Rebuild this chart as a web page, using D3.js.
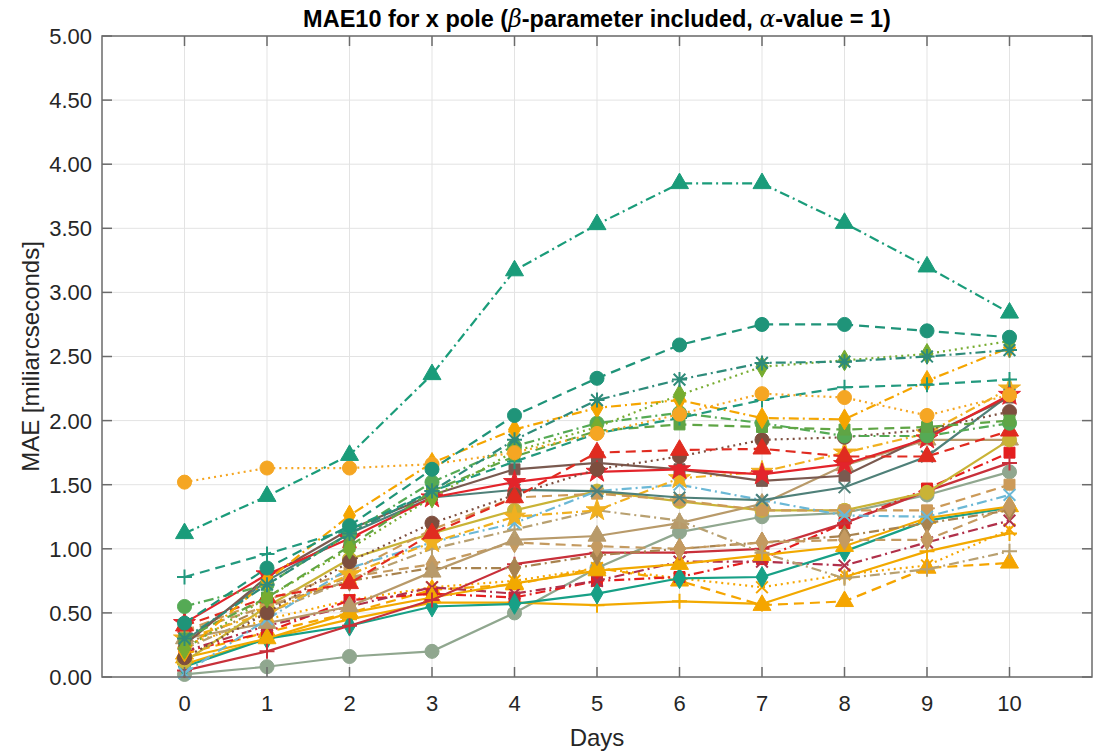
<!DOCTYPE html>
<html>
<head>
<meta charset="utf-8">
<script src="https://cdn.jsdelivr.net/npm/d3@7"></script>
<style>
  body { margin: 0; background: #fff; }
  svg { display: block; font-family: "Liberation Sans", Arial, sans-serif; }
</style>
</head>
<body>
<div id="chart"></div>
<script>
// x positions (days)
var days = [0, 1, 2, 3, 4, 5, 6, 7, 8, 9, 10];
var yTicks = [0, 0.5, 1, 1.5, 2, 2.5, 3, 3.5, 4, 4.5, 5];

// MAE values per series
var triTeal    = [1.12, 1.41, 1.73, 2.36, 3.17, 3.53, 3.85, 3.85, 3.54, 3.20, 2.84];
var circTeal   = [0.42, 0.85, 1.18, 1.62, 2.04, 2.33, 2.59, 2.75, 2.75, 2.70, 2.65];
var circOrange = [1.52, 1.63, 1.63, 1.66, 1.75, 1.90, 2.05, 2.21, 2.18, 2.04, 2.20];
var astTeal    = [0.30, 0.72, 1.12, 1.45, 1.85, 2.16, 2.32, 2.45, 2.46, 2.50, 2.55];
var diaOlive   = [0.22, 0.62, 1.00, 1.40, 1.76, 1.95, 2.20, 2.42, 2.47, 2.52, 2.62];
var plusTeal   = [0.78, 0.96, 1.15, 1.45, 1.68, 1.90, 2.02, 2.16, 2.26, 2.28, 2.32];
var diaOrange  = [0.20, 0.75, 1.26, 1.67, 1.93, 2.10, 2.16, 2.02, 2.01, 2.31, 2.57];
var sqGreen    = [0.30, 0.62, 1.02, 1.45, 1.72, 1.92, 1.97, 1.95, 1.93, 1.95, 2.00];
var circGreen  = [0.55, 0.72, 1.12, 1.52, 1.80, 1.98, 2.06, 1.98, 1.88, 1.88, 1.98];
var triRed     = [0.40, 0.62, 0.73, 1.12, 1.40, 1.75, 1.77, 1.78, 1.72, 1.72, 1.92];
var circBrown  = [0.15, 0.50, 0.90, 1.20, 1.42, 1.62, 1.72, 1.85, 1.87, 1.93, 2.07];
var starRed    = [0.42, 0.80, 1.08, 1.40, 1.52, 1.60, 1.62, 1.58, 1.66, 1.86, 2.20];
var sqBrown    = [0.25, 0.78, 1.15, 1.42, 1.62, 1.67, 1.62, 1.53, 1.57, 1.88, 2.18];
var xTealGray  = [0.28, 0.75, 1.12, 1.40, 1.46, 1.45, 1.40, 1.38, 1.48, 1.72, 2.20];
var xBlue      = [0.03, 0.45, 0.85, 1.05, 1.20, 1.45, 1.50, 1.38, 1.26, 1.25, 1.42];
var sqTan      = [0.36, 0.60, 0.82, 1.15, 1.40, 1.43, 1.38, 1.30, 1.30, 1.30, 1.50];
var circOlive  = [0.12, 0.55, 0.92, 1.12, 1.30, 1.45, 1.37, 1.30, 1.30, 1.44, 1.85];
var plusKhaki  = [0.22, 0.50, 0.76, 1.00, 1.15, 1.30, 1.22, 0.97, 0.77, 0.84, 0.98];
var circGray   = [0.02, 0.08, 0.16, 0.20, 0.50, 0.85, 1.13, 1.25, 1.28, 1.42, 1.60];
var triTan     = [0.30, 0.42, 0.55, 0.82, 1.07, 1.10, 1.20, 1.35, 1.65, 1.85, 1.85];
var diaTan     = [0.35, 0.55, 0.78, 0.88, 1.05, 1.02, 1.00, 1.05, 1.07, 1.07, 1.33];
var plusRed    = [0.05, 0.20, 0.40, 0.60, 0.88, 0.97, 0.97, 1.00, 1.20, 1.45, 1.67];
var triOrangeS = [0.15, 0.30, 0.50, 0.62, 0.73, 0.83, 0.88, 0.95, 1.02, 1.24, 1.33];
var diaTeal    = [0.08, 0.30, 0.40, 0.55, 0.57, 0.65, 0.77, 0.78, 0.98, 1.22, 1.32];
var xDarkRed   = [0.20, 0.40, 0.55, 0.70, 0.65, 0.75, 0.90, 0.90, 0.87, 1.05, 1.22];
var sqRed      = [0.20, 0.35, 0.60, 0.65, 0.62, 0.75, 0.78, 0.92, 1.20, 1.47, 1.75];
var plusOrange = [0.10, 0.30, 0.45, 0.58, 0.58, 0.56, 0.59, 0.57, 0.78, 0.98, 1.12];
var triOrange  = [0.18, 0.35, 0.50, 0.68, 0.72, 0.85, 0.75, 0.56, 0.59, 0.85, 0.89];
var xOrange    = [0.25, 0.45, 0.60, 0.70, 0.75, 0.85, 0.77, 0.70, 0.80, 0.87, 1.15];
var starYellow = [0.30, 0.50, 0.80, 1.05, 1.25, 1.30, 1.55, 1.60, 1.75, 1.90, 2.25];
var diaBrown   = [0.25, 0.55, 0.75, 0.85, 0.85, 0.95, 1.00, 1.05, 1.10, 1.20, 1.30];

// line styles (matlab-like)
var DASH = "10,6", DOT = "2,4", DASHDOT = "10,4,2,4", SOLID = null;

var series = [
  {v: circGray,   c: "#90a78f", d: SOLID,   m: "circle"},
  {v: plusOrange, c: "#f2a900", d: SOLID,   m: "plus"},
  {v: triOrange,  c: "#f5a500", d: DASH,    m: "triangle"},
  {v: xOrange,    c: "#f5a500", d: DOT,     m: "x"},
  {v: sqRed,      c: "#e41e1e", d: DASHDOT, m: "square"},
  {v: xDarkRed,   c: "#b0304a", d: DASHDOT, m: "x"},
  {v: diaTeal,    c: "#17a086", d: SOLID,   m: "diamond"},
  {v: triOrangeS, c: "#f2a900", d: SOLID,   m: "triangle"},
  {v: plusRed,    c: "#c8303a", d: SOLID,   m: "plus"},
  {v: diaBrown,   c: "#a8834f", d: DASHDOT, m: "diamond"},
  {v: diaTan,     c: "#c49a60", d: DASH,    m: "diamond"},
  {v: triTan,     c: "#b89a6a", d: SOLID,   m: "triangle"},
  {v: plusKhaki,  c: "#b8a070", d: DASHDOT, m: "plus"},
  {v: circOlive,  c: "#c9b336", d: SOLID,   m: "circle"},
  {v: sqTan,      c: "#cc9a58", d: DASH,    m: "square"},
  {v: xBlue,      c: "#6bb8d6", d: DASHDOT, m: "x"},
  {v: starYellow, c: "#f0b020", d: DASHDOT, m: "star"},
  {v: xTealGray,  c: "#4f8079", d: SOLID,   m: "x"},
  {v: sqBrown,    c: "#7a5a50", d: SOLID,   m: "square"},
  {v: starRed,    c: "#e3242b", d: SOLID,   m: "star"},
  {v: circBrown,  c: "#7d4e3e", d: DOT,     m: "circle"},
  {v: triRed,     c: "#e02b20", d: DASH,    m: "triangle"},
  {v: circGreen,  c: "#55aa55", d: DASHDOT, m: "circle"},
  {v: sqGreen,    c: "#5fa545", d: DASH,    m: "square"},
  {v: diaOrange,  c: "#f5a500", d: DASHDOT, m: "diamond"},
  {v: plusTeal,   c: "#22997e", d: DASH,    m: "plus"},
  {v: diaOlive,   c: "#77ac30", d: DOT,     m: "diamond"},
  {v: astTeal,    c: "#2e8b7a", d: DASHDOT, m: "asterisk"},
  {v: circOrange, c: "#f5a623", d: DOT,     m: "circle"},
  {v: circTeal,   c: "#1f9479", d: DASH,    m: "circle"},
  {v: triTeal,    c: "#1a9c7a", d: DASHDOT, m: "triangle"}
];

var W = 1094, H = 752;
var margin = {top: 36, right: 2, bottom: 75, left: 102};
var width = W - margin.left - margin.right,
    height = H - margin.top - margin.bottom;

var svg = d3.select("#chart").append("svg")
    .attr("width", W).attr("height", H);
var g = svg.append("g")
    .attr("transform", "translate(" + margin.left + "," + margin.top + ")");

var x = d3.scaleLinear().domain([-1, 11]).range([0, width]);
var y = d3.scaleLinear().domain([0, 5]).range([height, 0]);

// grid
g.append("g").selectAll("line").data(days).enter().append("line")
    .attr("x1", function (d) { return x(d); }).attr("x2", function (d) { return x(d); })
    .attr("y1", 0).attr("y2", height)
    .attr("stroke", "#e3e3e3").attr("stroke-width", 1);
g.append("g").selectAll("line").data(yTicks).enter().append("line")
    .attr("y1", function (d) { return y(d); }).attr("y2", function (d) { return y(d); })
    .attr("x1", 0).attr("x2", width)
    .attr("stroke", "#e3e3e3").attr("stroke-width", 1);

// lines + markers
var line = d3.line()
    .x(function (d, i) { return x(days[i]); })
    .y(function (d) { return y(d); });

function marker(sel, s) {
  var c = s.c;
  if (s.m === "plus" || s.m === "x" || s.m === "asterisk") {
    var r = 7.5, p = "";
    if (s.m !== "x") p += "M" + (-r) + ",0H" + r + "M0," + (-r) + "V" + r;
    if (s.m !== "plus") { var q = r * 0.78; p += "M" + (-q) + "," + (-q) + "L" + q + "," + q + "M" + (-q) + "," + q + "L" + q + "," + (-q); }
    sel.append("path").attr("d", p).attr("fill", "none").attr("stroke", c).attr("stroke-width", 2);
    return;
  }
  var type = {circle: d3.symbolCircle, triangle: d3.symbolTriangle, diamond: d3.symbolDiamond,
              square: d3.symbolSquare, star: d3.symbolStar}[s.m];
  var size = {circle: 155, triangle: 140, diamond: 125, square: 120, star: 150}[s.m];
  sel.append("path").attr("d", d3.symbol().type(type).size(size)())
      .attr("fill", c).attr("stroke", c).attr("stroke-width", 1);
}

series.forEach(function (s) {
  g.append("path")
      .datum(s.v)
      .attr("d", line)
      .attr("fill", "none")
      .attr("stroke", s.c)
      .attr("stroke-width", 2.2)
      .attr("stroke-dasharray", s.d);
  g.append("g").selectAll("g").data(s.v).enter().append("g")
      .attr("transform", function (d, i) { return "translate(" + x(days[i]) + "," + y(d) + ")"; })
      .each(function () { marker(d3.select(this), s); });
});

// axes box + inward ticks on all sides
var axisColor = "#6b6b6b", tl = 10;
g.append("rect").attr("x", 0).attr("y", 0).attr("width", width).attr("height", height)
    .attr("fill", "none").attr("stroke", axisColor).attr("stroke-width", 1.5);

var ticks = g.append("g").attr("stroke", axisColor).attr("stroke-width", 1.5);
days.forEach(function (d) {
  ticks.append("line").attr("x1", x(d)).attr("x2", x(d)).attr("y1", height).attr("y2", height - tl);
  ticks.append("line").attr("x1", x(d)).attr("x2", x(d)).attr("y1", 0).attr("y2", tl);
});
yTicks.forEach(function (d) {
  ticks.append("line").attr("y1", y(d)).attr("y2", y(d)).attr("x1", 0).attr("x2", tl);
  ticks.append("line").attr("y1", y(d)).attr("y2", y(d)).attr("x1", width).attr("x2", width - tl);
});

// tick labels
g.append("g").selectAll("text").data(days).enter().append("text")
    .attr("x", function (d) { return x(d); })
    .attr("y", height + 34)
    .attr("text-anchor", "middle")
    .attr("font-size", 22).attr("fill", "#262626")
    .text(function (d) { return d; });
g.append("g").selectAll("text").data(yTicks).enter().append("text")
    .attr("x", -10)
    .attr("y", function (d) { return y(d); })
    .attr("dy", "0.36em")
    .attr("text-anchor", "end")
    .attr("font-size", 22).attr("fill", "#262626")
    .text(function (d) { return d3.format(".2f")(d); });

// axis labels
svg.append("text")
    .attr("x", margin.left + width / 2).attr("y", 746)
    .attr("text-anchor", "middle").attr("font-size", 24).attr("fill", "#262626")
    .text("Days");
svg.append("text")
    .attr("transform", "translate(39," + (margin.top + height / 2) + ") rotate(-90)")
    .attr("text-anchor", "middle").attr("font-size", 24).attr("fill", "#262626")
    .text("MAE [miliarcseconds]");

// title
var title = svg.append("text")
    .attr("x", margin.left + width / 2).attr("y", 27)
    .attr("text-anchor", "middle").attr("font-size", 23.5).attr("font-weight", "bold")
    .attr("fill", "#000");
title.append("tspan").text("MAE10 for x pole (");
title.append("tspan").attr("font-family", "'DejaVu Serif', serif").attr("font-style", "italic").attr("font-weight", "normal").text("\u03b2");
title.append("tspan").text("-parameter included, ");
title.append("tspan").attr("font-family", "'DejaVu Serif', serif").attr("font-style", "italic").attr("font-weight", "normal").text("\u03b1");
title.append("tspan").text("-value = 1)");
</script>
</body>
</html>
